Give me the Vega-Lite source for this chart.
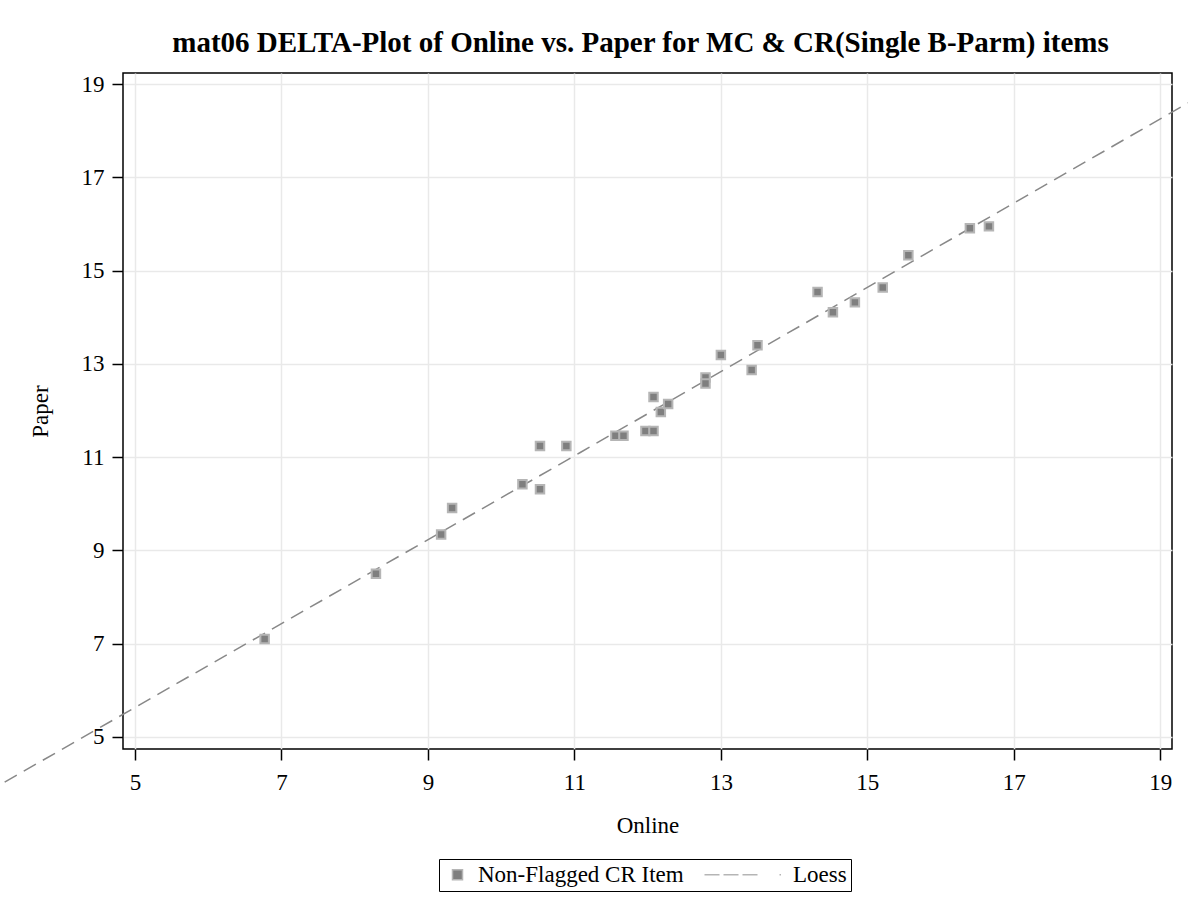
{
  "$schema": "https://vega.github.io/schema/vega-lite/v6.json",
  "width": 1049,
  "height": 676,
  "autosize": "none",
  "padding": {"left": 123, "top": 73, "right": 16, "bottom": 158},
  "background": "white",
  "title": {
    "text": "mat06 DELTA-Plot of Online vs. Paper for MC & CR(Single B-Parm) items",
    "font": "Liberation Serif",
    "fontSize": 29,
    "fontWeight": "bold",
    "color": "black",
    "anchor": "middle",
    "dx": -7,
    "offset": 15
  },
  "config": {
    "view": {"stroke": "black", "strokeWidth": 1.5},
    "font": "Liberation Serif",
    "axis": {
      "domain": false,
      "tickColor": "black",
      "tickWidth": 1.5,
      "tickSize": 11,
      "labelFont": "Liberation Serif",
      "labelFontSize": 23,
      "labelColor": "black",
      "titleFont": "Liberation Serif",
      "titleFontSize": 23,
      "titleFontWeight": "normal",
      "titleColor": "black",
      "gridColor": "#e9e9e9",
      "gridWidth": 1.5
    }
  },
  "datasets": {
    "items": [
      {"online": 6.77, "paper": 7.10},
      {"online": 8.29, "paper": 8.50},
      {"online": 9.18, "paper": 9.34},
      {"online": 9.33, "paper": 9.91},
      {"online": 10.29, "paper": 10.42},
      {"online": 10.53, "paper": 10.31},
      {"online": 10.53, "paper": 11.24},
      {"online": 10.89, "paper": 11.24},
      {"online": 11.56, "paper": 11.46},
      {"online": 11.67, "paper": 11.46},
      {"online": 11.97, "paper": 11.56},
      {"online": 12.08, "paper": 11.56},
      {"online": 12.08, "paper": 12.29},
      {"online": 12.18, "paper": 11.97},
      {"online": 12.28, "paper": 12.14},
      {"online": 12.79, "paper": 12.71},
      {"online": 12.79, "paper": 12.58},
      {"online": 13.00, "paper": 13.19},
      {"online": 13.42, "paper": 12.87},
      {"online": 13.50, "paper": 13.40},
      {"online": 14.32, "paper": 14.54},
      {"online": 14.53, "paper": 14.11},
      {"online": 14.83, "paper": 14.32},
      {"online": 15.21, "paper": 14.64},
      {"online": 15.56, "paper": 15.33},
      {"online": 16.40, "paper": 15.91},
      {"online": 16.66, "paper": 15.95}
    ],
    "loess": [
      {"online": 3.22, "paper": 4.03},
      {"online": 11.08, "paper": 11.10},
      {"online": 19.38, "paper": 18.60}
    ]
  },
  "layer": [
    {
      "data": {"name": "loess"},
      "mark": {
        "type": "line",
        "clip": false,
        "color": "#888888",
        "strokeWidth": 1.5,
        "strokeDash": [14, 8]
      },
      "encoding": {
        "x": {"field": "online", "type": "quantitative"},
        "y": {"field": "paper", "type": "quantitative"}
      }
    },
    {
      "data": {"name": "items"},
      "mark": {
        "type": "point",
        "filled": true,
        "fill": "#7f7f7f",
        "stroke": "#b5b5b5",
        "strokeWidth": 2,
        "size": 72,
        "opacity": 1
      },
      "encoding": {
        "x": {
          "field": "online",
          "type": "quantitative",
          "scale": {"domain": [4.836, 19.16], "nice": false, "zero": false},
          "axis": {
            "title": "Online",
            "values": [5, 7, 9, 11, 13, 15, 17, 19],
            "format": "d",
            "labelPadding": 11,
            "titlePadding": 20
          }
        },
        "y": {
          "field": "paper",
          "type": "quantitative",
          "scale": {"domain": [4.74, 19.24], "nice": false, "zero": false},
          "axis": {
            "title": "Paper",
            "values": [5, 7, 9, 11, 13, 15, 17, 19],
            "format": "d",
            "labelPadding": 8,
            "titlePadding": 29
          }
        },
        "shape": {
          "datum": "Non-Flagged CR Item",
          "scale": {
            "domain": ["Non-Flagged CR Item", "Loess"],
            "range": ["square", "M-13.6,0H-10.6M-9.8,0H-6.8M-6,0H-3M1.4,0H1.7"]
          },
          "legend": {
            "title": null,
            "orient": "none",
            "legendX": 316,
            "legendY": 786,
            "direction": "horizontal",
            "strokeColor": "black",
            "fillColor": "white",
            "padding": 4,
            "symbolOffset": 3,
            "symbolSize": 100,
            "symbolStrokeWidth": 1.5,
            "labelFont": "Liberation Serif",
            "labelFontSize": 23,
            "labelColor": "black",
            "labelOffset": 9,
            "labelLimit": 400,
            "columnPadding": 17,
            "encode": {
              "symbols": {
                "update": {
                  "fill": {"signal": "datum.value === 'Loess' ? 'transparent' : '#7f7f7f'"},
                  "stroke": {"signal": "datum.value === 'Loess' ? '#888888' : '#b5b5b5'"}
                }
              }
            }
          }
        }
      }
    }
  ]
}
